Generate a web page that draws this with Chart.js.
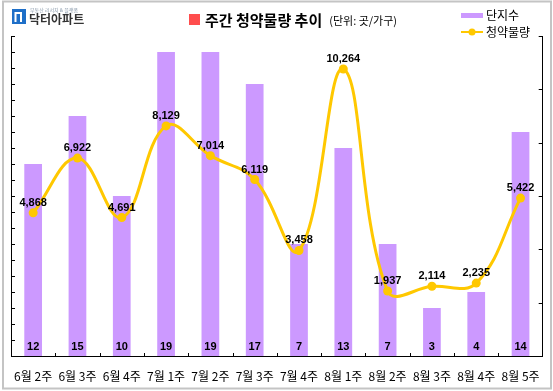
<!DOCTYPE html>
<html>
<head>
<meta charset="utf-8">
<script src="https://cdn.jsdelivr.net/npm/chart.js@4.4.1/dist/chart.umd.min.js"></script>
<style>
  body { margin: 0; background: #fff; }
  canvas { display: block; }
</style>
</head>
<body>
<canvas id="weeklyChart" width="553" height="391"></canvas>
<script>
// 주간 데이터
const weeks = ["6월 2주", "6월 3주", "6월 4주", "7월 1주", "7월 2주", "7월 3주", "7월 4주", "8월 1주", "8월 2주", "8월 3주", "8월 4주", "8월 5주"];
const complexCount = [12, 15, 10, 19, 19, 17, 7, 13, 7, 3, 4, 14];   // 단지수
const supplyUnits = [4868, 6922, 4691, 8129, 7014, 6119, 3458, 10264, 1937, 2114, 2235, 5422]; // 청약물량

const BAR_COLOR = "#CC99FF";
const LINE_COLOR = "#FFC800";
const KR_FONT = "'Noto Sans CJK KR', sans-serif";
const NUM_FONT = "bold 11px 'Liberation Sans', Arial, sans-serif";

// header, frame, legend and value labels
const decorPlugin = {
	id: "decor",
	beforeDraw(chart) {
		const ctx = chart.ctx;
		ctx.save();
		ctx.fillStyle = "#fff";
		ctx.fillRect(0, 0, chart.width, chart.height);

		// outer frame
		ctx.strokeStyle = "#C4C4C4";
		ctx.lineWidth = 2;
		ctx.strokeRect(3, 1.5, 548, 387);

		// logo
		ctx.fillStyle = "#1E6FC8";
		ctx.fillRect(12, 9, 14, 15);
		ctx.strokeStyle = "#fff";
		ctx.lineWidth = 2;
		ctx.beginPath();
		ctx.moveTo(15.5, 22); ctx.lineTo(15.5, 13); ctx.lineTo(21, 13); ctx.lineTo(21, 22);
		ctx.stroke();
		ctx.fillStyle = "#8899AA";
		ctx.font = "5px " + KR_FONT;
		ctx.textBaseline = "middle";
		ctx.textAlign = "left";
		ctx.fillText("부동산 리서치 & 플랫폼", 30, 10);
		ctx.fillStyle = "#333";
		ctx.font = "bold 12px " + KR_FONT;
		ctx.fillText("닥터아파트", 29, 19);

		// title
		ctx.fillStyle = "#FF4D4D";
		ctx.fillRect(189, 14, 11, 11);
		ctx.fillStyle = "#000";
		ctx.font = "bold 15px " + KR_FONT;
		const title = "주간 청약물량 추이";
		ctx.fillText(title, 205, 20);
		const tw = ctx.measureText(title).width;
		ctx.font = "11px " + KR_FONT;
		ctx.fillText("(단위: 곳/가구)", 205 + tw + 7, 21);

		// legend
		ctx.fillStyle = BAR_COLOR;
		ctx.fillRect(461, 13, 22, 5);
		ctx.strokeStyle = LINE_COLOR;
		ctx.lineWidth = 2;
		ctx.beginPath();
		ctx.moveTo(461, 32); ctx.lineTo(483, 32);
		ctx.stroke();
		ctx.fillStyle = LINE_COLOR;
		ctx.beginPath();
		ctx.arc(472, 32, 3.5, 0, Math.PI * 2);
		ctx.fill();
		ctx.fillStyle = "#000";
		ctx.font = "12px " + KR_FONT;
		ctx.fillText("단지수", 486, 15);
		ctx.fillText("청약물량", 486, 32);
		ctx.restore();
	},
	afterDatasetsDraw(chart) {
		const ctx = chart.ctx;
		const area = chart.chartArea;
		const x = chart.scales.x;
		ctx.save();

		// inward tick marks
		ctx.strokeStyle = "#000";
		ctx.lineWidth = 1;
		ctx.beginPath();
		const yL = chart.scales.y;
		yL.ticks.forEach((t, i) => {
			const py = Math.round(yL.getPixelForTick(i)) + 0.5;
			ctx.moveTo(area.left, py); ctx.lineTo(area.left + 4, py);
		});
		const yR = chart.scales.y1;
		yR.ticks.forEach((t, i) => {
			const py = Math.round(yR.getPixelForTick(i)) + 0.5;
			ctx.moveTo(area.right - 4, py); ctx.lineTo(area.right, py);
		});
		for (let i = 0; i < weeks.length - 1; i++) {
			const px = Math.round((x.getPixelForValue(i) + x.getPixelForValue(i + 1)) / 2) + 0.5;
			ctx.moveTo(px, area.bottom); ctx.lineTo(px, area.bottom - 3);
		}
		ctx.stroke();

		// value labels
		ctx.fillStyle = "#000";
		ctx.font = NUM_FONT;
		ctx.textAlign = "center";
		ctx.textBaseline = "middle";
		chart.getDatasetMeta(1).data.forEach((bar, i) => {
			ctx.fillText(complexCount[i], bar.x, area.bottom - 9);
		});
		chart.getDatasetMeta(0).data.forEach((pt, i) => {
			ctx.fillText(supplyUnits[i].toLocaleString("en-US"), pt.x, pt.y - 10);
		});
		ctx.restore();
	}
};

const noWidth = function (scale) { scale.width = 0; };

const chart = new Chart(document.getElementById("weeklyChart"), {
	data: {
		labels: weeks,
		datasets: [{
			type: "line",
			label: "청약물량",
			data: supplyUnits,
			yAxisID: "y1",
			borderColor: LINE_COLOR,
			backgroundColor: LINE_COLOR,
			borderWidth: 3,
			tension: 0.4,
			pointRadius: 4.5,
			pointBackgroundColor: LINE_COLOR,
			pointBorderWidth: 0,
			order: 1
		}, {
			type: "bar",
			label: "단지수",
			data: complexCount,
			yAxisID: "y",
			backgroundColor: BAR_COLOR,
			categoryPercentage: 1,
			barPercentage: 0.4,
			order: 2
		}]
	},
	options: {
		responsive: false,
		animation: false,
		devicePixelRatio: 1,
		layout: { padding: { left: 11, right: 10, top: 36, bottom: 0 } },
		plugins: {
			legend: { display: false },
			tooltip: { enabled: false }
		},
		scales: {
			x: {
				grid: { display: false, drawTicks: false },
				border: { display: true, color: "#000", width: 1 },
				ticks: {
					color: "#000",
					padding: 13,
					maxRotation: 0,
					autoSkip: false,
					font: { family: KR_FONT, size: 12 }
				},
				afterFit(scale) { scale.height = 35; }
			},
			y: {
				position: "left",
				min: 0,
				max: 20,
				ticks: { display: false, stepSize: 1 },
				grid: { display: false, drawTicks: false },
				border: { display: true, color: "#000", width: 1 },
				afterFit: noWidth
			},
			y1: {
				position: "right",
				min: -500,
				max: 11500,
				ticks: { display: false, stepSize: 2000 },
				grid: { display: false, drawTicks: false },
				border: { display: true, color: "#000", width: 1 },
				afterFit: noWidth
			}
		}
	},
	plugins: [decorPlugin]
});
</script>
</body>
</html>
